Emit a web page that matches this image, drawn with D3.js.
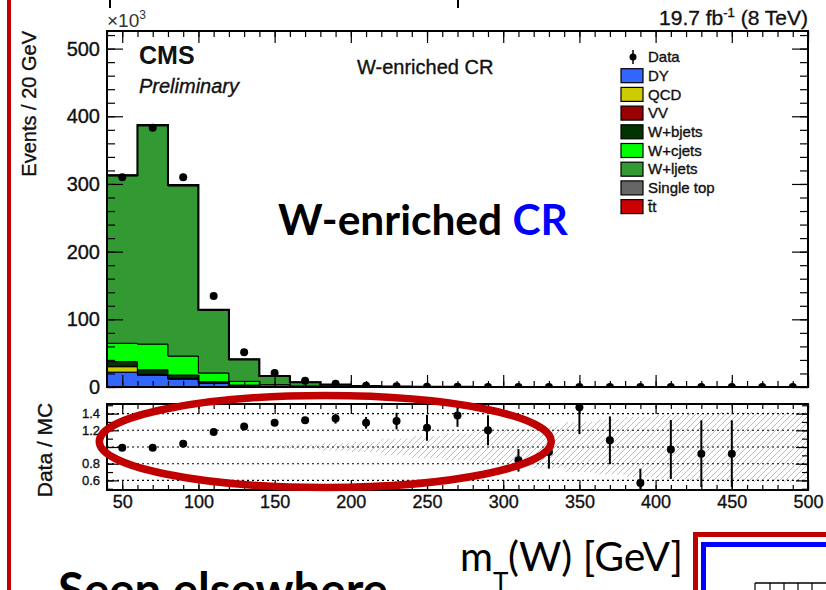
<!DOCTYPE html>
<html><head><meta charset="utf-8">
<script src="https://cdn.jsdelivr.net/npm/d3@7"></script>
<style>body{margin:0;background:#fff;} svg{display:block;} .rt{stroke:#111;stroke-width:0.35px;}</style>
</head><body>
<svg id="chart" width="826" height="590"></svg>
<script>
// ---------------- data (values in units of 10^3 events) ----------------
const binCenters = [50,70,90,110,130,150,170,190,210,230,250,270,290,310,330,350,370,390,410,430,450,470,490];
const binWidth = 20;
const dyVals    = [22, 17, 11.5, 5.5, 2.0, 0.8, 0.3, 0.12, 0.05, 0.03, 0.015, 0.01, 0.006, 0.004, 0.002, 0.0015, 0.001, 0.0008, 0.0005, 0.0004, 0.0003, 0.0002, 0.0001];
const qcdVals   = [8, 1.2, 0.6, 0.3, 0.1, 0.05, 0.02, 0.01, 0.005, 0.003, 0.002, 0.001, 0, 0, 0, 0, 0, 0, 0, 0, 0, 0, 0];
const vvVals    = [0.6, 0.7, 0.6, 0.4, 0.25, 0.12, 0.07, 0.04, 0.025, 0.015, 0.01, 0.007, 0.005, 0.003, 0.002, 0.0015, 0.001, 0.0008, 0.0006, 0.0004, 0.0003, 0.0002, 0.0002];
const wbVals    = [7, 6.5, 5, 1.5, 0.5, 0.2, 0.08, 0.04, 0.02, 0.01, 0.006, 0.004, 0.002, 0.001, 0.001, 0.0005, 0.0004, 0.0003, 0.0002, 0.0001, 0.0001, 0.0001, 0];
const wcVals    = [27, 38, 28, 13, 5.5, 2.3, 1.0, 0.45, 0.2, 0.1, 0.055, 0.03, 0.018, 0.011, 0.007, 0.0045, 0.003, 0.002, 0.0013, 0.0009, 0.0006, 0.0004, 0.0003];
const wlVals    = [247.5, 322.6, 251.5, 92.6, 32.0, 12.2, 5.3, 2.7, 1.1, 0.56, 0.3, 0.17, 0.1, 0.055, 0.032, 0.02, 0.013, 0.0085, 0.0055, 0.0037, 0.0025, 0.0017, 0.0012];
const stopVals  = [0.6, 0.8, 0.7, 0.5, 0.35, 0.2, 0.12, 0.07, 0.04, 0.025, 0.015, 0.01, 0.007, 0.005, 0.003, 0.002, 0.0015, 0.001, 0.0008, 0.0005, 0.0004, 0.0003, 0.0002];
const ttbarVals = [0.3, 0.4, 0.5, 0.4, 0.3, 0.2, 0.13, 0.08, 0.05, 0.03, 0.02, 0.012, 0.008, 0.005, 0.003, 0.002, 0.0015, 0.001, 0.0007, 0.0005, 0.0003, 0.0002, 0.0002];
const dataVals  = [310, 383, 310, 134.5, 51.5, 20.6, 9.2, 4.7, 1.93, 1.05, 0.55, 0.32, 0.17, 0.075, 0.05, 0.04, 0.025, 0.009, 0.009, 0.006, 0.004, 0, 0];
const ratioVals = [0.99, 0.99, 1.04, 1.18, 1.245, 1.29, 1.32, 1.34, 1.29, 1.31, 1.23, 1.377, 1.20, 0.84, 0.94, 1.476, 1.08, 0.57, 0.97, 0.92, 0.92, null, null];
const ratioErrs = [0.003, 0.003, 0.004, 0.008, 0.015, 0.025, 0.04, 0.06, 0.07, 0.1, 0.155, 0.135, 0.18, 0.135, 0.2, 0.32, 0.286, 0.17, 0.353, 0.4, 0.4, null, null];
const mcRelUnc  = [0.003, 0.003, 0.004, 0.006, 0.01, 0.02, 0.03, 0.045, 0.06, 0.1, 0.13, 0.16, 0.19, 0.22, 0.25, 0.3, 0.33, 0.36, 0.38, 0.4, 0.42, 0.42, 0.42];

const seriesNames  = ["DY","QCD","VV","W+bjets","W+cjets","W+ljets","Single top","t\u0304t"];
const seriesValues = [dyVals, qcdVals, vvVals, wbVals, wcVals, wlVals, stopVals, ttbarVals];
const seriesColors = ["#3366ff","#cccc00","#990000","#003300","#00ff00","#339933","#666666","#cc0000"];

const xTickValues = [50,100,150,200,250,300,350,400,450,500];
const yTickValues = [0,100,200,300,400,500];
const ratioTickValues = [0.6,0.8,1.0,1.2,1.4];
const ratioTickLabels = ["0.6","0.8","","1.2","1.4"];

// ---------------- layout ----------------
const ROOT = "'Liberation Sans', Arial, Helvetica, sans-serif";
const LATO = "Lato, 'Open Sans', sans-serif";
const svg = d3.select("#chart");
const X0 = 107, X1 = 808, YB = 387, YT = 31, RT = 404, RB = 490;
const x  = d3.scaleLinear().domain([40, 500]).range([X0, X1]);
const y  = d3.scaleLinear().domain([0, 526]).range([YB, YT]);
const yr = d3.scaleLinear().domain([0.485, 1.515]).range([RB, RT]);

const defs = svg.append("defs");
const hatch = defs.append("pattern").attr("id","hatch").attr("patternUnits","userSpaceOnUse")
  .attr("width",6).attr("height",6);
hatch.append("path").attr("d","M-1,1 l2,-2 M0,6 l6,-6 M5,7 l2,-2").attr("stroke","#b5b5b5").attr("stroke-width",0.9);
defs.append("clipPath").attr("id","clipR").append("rect").attr("x",X0).attr("y",RT).attr("width",X1-X0).attr("height",RB-RT);
defs.append("clipPath").attr("id","clipM").append("rect").attr("x",X0).attr("y",YT).attr("width",X1-X0).attr("height",YB-YT);

// ---------------- main stacked histogram ----------------
const rows = binCenters.map((c, i) => {
  const r = {c};
  seriesNames.forEach((n, k) => r[n] = seriesValues[k][i]);
  return r;
});
const stacked = d3.stack().keys(seriesNames)(rows);
const area = d3.area().x(d => d.x).y0(d => y(d.lo)).y1(d => y(d.hi));
const gMain = svg.append("g").attr("clip-path","url(#clipM)");
stacked.forEach((layer, k) => {
  const pts = [];
  layer.forEach((d, i) => {
    const c = binCenters[i];
    pts.push({x: x(c - binWidth/2), lo: d[0], hi: d[1]});
    pts.push({x: x(c + binWidth/2), lo: d[0], hi: d[1]});
  });
  gMain.append("path").attr("d", area(pts)).attr("fill", seriesColors[k])
    .attr("stroke","#000").attr("stroke-width",1);
});
const topLayer = stacked[stacked.length-1];
const totPts = [];
topLayer.forEach((d, i) => {
  const c = binCenters[i];
  totPts.push([x(c - binWidth/2), y(d[1])]);
  totPts.push([x(c + binWidth/2), y(d[1])]);
});
gMain.append("path").attr("d", d3.line()(totPts)).attr("fill","none").attr("stroke","#000").attr("stroke-width",2);

gMain.selectAll("circle.data").data(binCenters).join("circle")
  .attr("cx", c => x(c)).attr("cy", (c, i) => y(dataVals[i])).attr("r", 4).attr("fill","#000");

// ---------------- axes helper ----------------
function styleAxis(g, fs){
  g.select(".domain").remove();
  g.selectAll("line").attr("stroke","#000").attr("stroke-width",1.2);
  g.selectAll("text").attr("font-family",ROOT).attr("font-size",fs).attr("fill","#111").attr("class","rt");
}
const minorX = d3.range(40, 501, 10);
const minorY = d3.range(0, 526, 20);
// main panel ticks
svg.append("g").attr("transform",`translate(0,${YB})`).call(d3.axisBottom(x).tickValues(xTickValues).tickSizeInner(-12).tickSizeOuter(0).tickFormat("")).call(styleAxis, 18);
svg.append("g").attr("transform",`translate(0,${YB})`).call(d3.axisBottom(x).tickValues(minorX).tickSizeInner(-6).tickSizeOuter(0).tickFormat("")).call(styleAxis, 18);
svg.append("g").attr("transform",`translate(0,${YT})`).call(d3.axisTop(x).tickValues(xTickValues).tickSizeInner(-12).tickSizeOuter(0).tickFormat("")).call(styleAxis, 18);
svg.append("g").attr("transform",`translate(0,${YT})`).call(d3.axisTop(x).tickValues(minorX).tickSizeInner(-6).tickSizeOuter(0).tickFormat("")).call(styleAxis, 18);
svg.append("g").attr("transform",`translate(${X0},0)`).call(d3.axisLeft(y).tickValues(yTickValues).tickSizeInner(-16).tickSizeOuter(0).tickPadding(7)).call(styleAxis, 20);
svg.append("g").attr("transform",`translate(${X0},0)`).call(d3.axisLeft(y).tickValues(minorY).tickSizeInner(-8).tickSizeOuter(0).tickFormat("")).call(styleAxis, 20);
svg.append("g").attr("transform",`translate(${X1},0)`).call(d3.axisRight(y).tickValues(yTickValues).tickSizeInner(-16).tickSizeOuter(0).tickFormat("")).call(styleAxis, 20);
svg.append("g").attr("transform",`translate(${X1},0)`).call(d3.axisRight(y).tickValues(minorY).tickSizeInner(-8).tickSizeOuter(0).tickFormat("")).call(styleAxis, 20);
svg.append("rect").attr("x",X0).attr("y",YT).attr("width",X1-X0).attr("height",YB-YT).attr("fill","none").attr("stroke","#000").attr("stroke-width",2);

// ---------------- ratio panel ----------------
const gR = svg.append("g").attr("clip-path","url(#clipR)");
gR.selectAll("rect.unc").data(binCenters).join("rect")
  .attr("x", c => x(c - binWidth/2)).attr("width", x(60) - x(40))
  .attr("y", (c, i) => yr(1 + mcRelUnc[i])).attr("height", (c, i) => yr(1 - mcRelUnc[i]) - yr(1 + mcRelUnc[i]))
  .attr("fill","url(#hatch)");
gR.selectAll("line.grid").data(ratioTickValues).join("line")
  .attr("x1", X0).attr("x2", X1).attr("y1", v => yr(v)).attr("y2", v => yr(v))
  .attr("stroke","#000").attr("stroke-width",1.1).attr("stroke-dasharray","2,3");
const rIdx = binCenters.map((c, i) => i).filter(i => ratioVals[i] !== null);
gR.selectAll("line.err").data(rIdx).join("line")
  .attr("x1", i => x(binCenters[i])).attr("x2", i => x(binCenters[i]))
  .attr("y1", i => yr(ratioVals[i] - ratioErrs[i])).attr("y2", i => yr(ratioVals[i] + ratioErrs[i]))
  .attr("stroke","#000").attr("stroke-width",2);
gR.selectAll("circle.pt").data(rIdx).join("circle")
  .attr("cx", i => x(binCenters[i])).attr("cy", i => yr(ratioVals[i])).attr("r", 4).attr("fill","#000");

const minorR = d3.range(0.5, 1.51, 0.1);
svg.append("g").attr("transform",`translate(0,${RB})`).call(d3.axisBottom(x).tickValues(xTickValues).tickSizeInner(-10).tickSizeOuter(0).tickPadding(5).tickFormat(d3.format("d"))).call(styleAxis, 18);
svg.append("g").attr("transform",`translate(0,${RB})`).call(d3.axisBottom(x).tickValues(minorX).tickSizeInner(-5).tickSizeOuter(0).tickFormat("")).call(styleAxis, 18);
svg.append("g").attr("transform",`translate(0,${RT})`).call(d3.axisTop(x).tickValues(xTickValues).tickSizeInner(-10).tickSizeOuter(0).tickFormat("")).call(styleAxis, 18);
svg.append("g").attr("transform",`translate(0,${RT})`).call(d3.axisTop(x).tickValues(minorX).tickSizeInner(-5).tickSizeOuter(0).tickFormat("")).call(styleAxis, 18);
svg.append("g").attr("transform",`translate(${X0},0)`).call(d3.axisLeft(yr).tickValues(ratioTickValues).tickSizeInner(-12).tickSizeOuter(0).tickPadding(7).tickFormat((v, i) => ratioTickLabels[i])).call(styleAxis, 13);
svg.append("g").attr("transform",`translate(${X0},0)`).call(d3.axisLeft(yr).tickValues(minorR).tickSizeInner(-6).tickSizeOuter(0).tickFormat("")).call(styleAxis, 13);
svg.append("g").attr("transform",`translate(${X1},0)`).call(d3.axisRight(yr).tickValues(ratioTickValues).tickSizeInner(-12).tickSizeOuter(0).tickFormat("")).call(styleAxis, 13);
svg.append("g").attr("transform",`translate(${X1},0)`).call(d3.axisRight(yr).tickValues(minorR).tickSizeInner(-6).tickSizeOuter(0).tickFormat("")).call(styleAxis, 13);
svg.append("rect").attr("x",X0).attr("y",RT).attr("width",X1-X0).attr("height",RB-RT).attr("fill","none").attr("stroke","#000").attr("stroke-width",2);

// ---------------- ROOT texts ----------------
const t10 = svg.append("text").attr("x",107).attr("y",27).attr("font-family",ROOT).attr("font-size",19).attr("fill","#333");
t10.append("tspan").text("\u00d710");
t10.append("tspan").attr("font-size",12).attr("dy",-8).text("3");
const lumi = svg.append("text").attr("x",808).attr("y",25).attr("text-anchor","end").attr("font-family",ROOT).attr("font-size",21).attr("fill","#111").attr("class","rt");
lumi.append("tspan").text("19.7 fb");
lumi.append("tspan").attr("font-size",13).attr("dy",-8).text("-1");
lumi.append("tspan").attr("dy",8).text(" (8 TeV)");
svg.append("text").attr("x",139).attr("y",64).attr("font-family",ROOT).attr("font-weight","bold").attr("font-size",25).attr("fill","#111").text("CMS");
svg.append("text").attr("x",139).attr("y",93).attr("font-family",ROOT).attr("font-style","italic").attr("font-size",20).attr("fill","#111").attr("class","rt").text("Preliminary");
svg.append("text").attr("x",357).attr("y",74).attr("font-family",ROOT).attr("font-size",20).attr("fill","#111").attr("class","rt").text("W-enriched CR");
svg.append("text").attr("transform","translate(36,31) rotate(-90)").attr("text-anchor","end").attr("font-family",ROOT).attr("font-size",20).attr("fill","#111").attr("class","rt").text("Events / 20 GeV");
svg.append("text").attr("transform","translate(52,450) rotate(-90)").attr("text-anchor","middle").attr("font-family",ROOT).attr("font-size",21).attr("fill","#111").attr("class","rt").text("Data / MC");

// legend
const legX = 621, legY0 = 57, legDY = 18.7;
svg.append("line").attr("x1",633).attr("x2",633).attr("y1",legY0-7).attr("y2",legY0+7).attr("stroke","#000").attr("stroke-width",1.5);
svg.append("circle").attr("cx",633).attr("cy",legY0).attr("r",3.5).attr("fill","#000");
svg.append("text").attr("x",648).attr("y",legY0).attr("dy","0.35em").attr("font-family",ROOT).attr("font-size",15).attr("fill","#111").attr("class","rt").text("Data");
seriesNames.forEach((n, k) => {
  const cy = legY0 + legDY*(k+1);
  svg.append("rect").attr("x",legX).attr("y",cy-7).attr("width",22).attr("height",14).attr("fill",seriesColors[k]).attr("stroke","#000").attr("stroke-width",1.2);
  svg.append("text").attr("x",648).attr("y",cy).attr("dy","0.35em").attr("font-family",ROOT).attr("font-size",15).attr("fill","#111").attr("class","rt").text(n);
});

// ---------------- slide overlays ----------------
function fit(sel, target){
  const w = sel.node().getComputedTextLength();
  sel.attr("font-size", parseFloat(sel.attr("font-size")) * target / w);
}
const big = svg.append("text").attr("x",278).attr("y",235).attr("font-family",LATO).attr("font-weight","bold").attr("font-size",40).attr("fill","#000");
big.append("tspan").text("W-enriched ");
big.append("tspan").attr("fill","#0000ff").text("CR");
fit(big, 290);

svg.append("ellipse").attr("cx",325.3).attr("cy",441.5).attr("rx",226).attr("ry",46).attr("fill","none").attr("stroke","#c00000").attr("stroke-width",7.5);
svg.append("rect").attr("x",7).attr("y",0).attr("width",4).attr("height",590).attr("fill","#c00000");
svg.append("line").attr("x1",110).attr("x2",110).attr("y1",0).attr("y2",8).attr("stroke","#000").attr("stroke-width",2);
svg.append("line").attr("x1",458).attr("x2",458).attr("y1",0).attr("y2",8).attr("stroke","#000").attr("stroke-width",2);

const m1 = svg.append("text").attr("x",460).attr("y",571).attr("font-family",LATO).attr("font-size",40).attr("fill","#000").text("m");
fit(m1, 33);
svg.append("text").attr("x",493).attr("y",592).attr("font-family",LATO).attr("font-size",26).attr("fill","#000").text("T");
const m2 = svg.append("text").attr("x",508).attr("y",571).attr("font-family",LATO).attr("font-size",40).attr("fill","#000").text("(W) [GeV]");
fit(m2, 175);

const seen = svg.append("text").attr("x",58).attr("y",600).attr("font-family",LATO).attr("font-weight","bold").attr("font-size",40).attr("fill","#000").text("Seen elsewhere");
fit(seen, 330);
seen.attr("y", 573 + 0.72*parseFloat(seen.attr("font-size")));

svg.append("rect").attr("x",695.5).attr("y",534.5).attr("width",200).attr("height",100).attr("fill","none").attr("stroke","#c00000").attr("stroke-width",5);
svg.append("rect").attr("x",703.5).attr("y",544.5).attr("width",200).attr("height",100).attr("fill","none").attr("stroke","#0000ff").attr("stroke-width",5);
svg.append("line").attr("x1",755).attr("x2",826).attr("y1",583).attr("y2",583).attr("stroke","#000").attr("stroke-width",1.5);
[755,770,784,798,812].forEach(t => svg.append("line").attr("x1",t).attr("x2",t).attr("y1",583).attr("y2",590).attr("stroke","#000").attr("stroke-width",1.2));
</script>
</body></html>
